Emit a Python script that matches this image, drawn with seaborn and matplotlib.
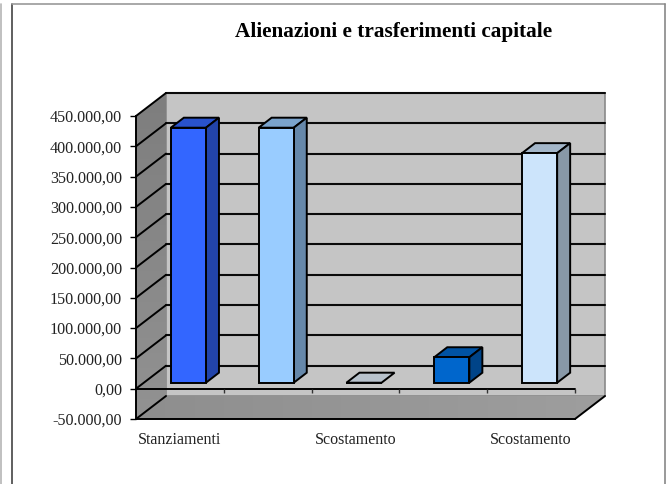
import numpy as np
import pandas as pd
import seaborn as sns
import matplotlib
matplotlib.use('Agg')
import matplotlib.pyplot as plt
from matplotlib.colors import LinearSegmentedColormap
from matplotlib.lines import Line2D
from matplotlib.patches import Polygon

# dati
categories = ['Stanziamenti', '', 'Scostamento', '', 'Scostamento']
values = [420800, 420800, 0, 42000, 378800]
front_colors = ['#3366ff', '#99ccff', '#e6f3ff', '#0066cc', '#cce4fb']
y_ticks = [-50000, 0, 50000, 100000, 150000, 200000, 250000, 300000, 350000, 400000, 450000]
y_labels = ['-50.000,00', '0,00', '50.000,00', '100.000,00', '150.000,00', '200.000,00',
            '250.000,00', '300.000,00', '350.000,00', '400.000,00', '450.000,00']

W, H = 670, 484
sns.set_theme(style='white')
plt.rcParams['font.family'] = ['Liberation Serif', 'DejaVu Serif']

fig = plt.figure(figsize=(W / 100, H / 100), dpi=100)
ax = fig.add_axes([136 / W, 1 - 419 / H, (575 - 136) / W, (419 - 116) / H])

df = pd.DataFrame({'pos': range(len(values)), 'value': values})
sns.barplot(data=df, x='pos', y='value', hue='pos', palette=front_colors, legend=False,
            width=0.4, edgecolor='black', linewidth=1.4, saturation=1, ax=ax, zorder=5)
bars = list(ax.patches)

# profondita della scatola e delle barre, in unita dati
box_dx, box_dy = 30 / 87.8, 23 / 303 * 500000
bar_dx, bar_dy = 13 / 87.8, 10 / 303 * 500000
shift_x, shift_y = 8.5 / 87.8, 6 / 303 * 500000
x0, x1, y0, y1 = -0.5, 4.5, -50000, 450000


def shaded(points, c_start, c_end, horizontal):
    # poligono riempito con una sfumatura
    poly = Polygon(points, fc='none', ec='none', zorder=1, clip_on=False)
    ax.add_patch(poly)
    xs, ys = zip(*points)
    grad = np.linspace(0, 1, 64).reshape(1, -1) if horizontal else np.linspace(0, 1, 64).reshape(-1, 1)
    cmap = LinearSegmentedColormap.from_list('g', [c_start, c_end])
    im = ax.imshow(grad, cmap=cmap, extent=(min(xs), max(xs), min(ys), max(ys)), origin='lower',
                   aspect='auto', zorder=1)
    im.set_clip_box(fig.bbox)
    im.set_clip_path(poly)


back = Polygon([(x0 + box_dx, y0 + box_dy), (x1 + box_dx, y0 + box_dy),
                (x1 + box_dx, y1 + box_dy), (x0 + box_dx, y1 + box_dy)],
               fc='#c5c5c5', ec='#8a8a8a', lw=1.2, zorder=1, clip_on=False)
ax.add_patch(back)
shaded([(x0, y0), (x0 + box_dx, y0 + box_dy), (x0 + box_dx, y1 + box_dy), (x0, y1)],
       '#929292', '#7e7e7e', False)
shaded([(x0, y0), (x1, y0), (x1 + box_dx, y0 + box_dy), (x0 + box_dx, y0 + box_dy)],
       '#8e8e8e', '#9e9e9e', True)

ax.set_xlim(-0.5, 4.5)
ax.set_ylim(-50000, 450000)

# griglia: diagonali sul fianco e orizzontali sul fondo
for t in y_ticks:
    if t > y0:
        ax.plot([x0 + box_dx, x1 + box_dx], [t + box_dy] * 2, color='#0a0a0a', lw=1.5,
                zorder=2, clip_on=False)
    ax.plot([x0, x0 + box_dx], [t, t + box_dy], color='black', lw=1.4, zorder=2, clip_on=False)
ax.plot([x1, x1 + box_dx], [y0, y0 + box_dy], color='black', lw=1.4, zorder=2, clip_on=False)

# linea dello zero e tacche
ax.plot([x0, x1], [0, 0], color='black', lw=1.4, zorder=3, clip_on=False)
ax.vlines(np.arange(0.5, 5), -7000, 0, color='#333333', lw=1, zorder=3, clip_on=False)

# barre 3D
for bar, col in zip(bars, front_colors):
    bar.set_x(bar.get_x() + shift_x)
    bar.set_y(bar.get_y() + shift_y)
    x, y, w, h = bar.get_x(), bar.get_y(), bar.get_width(), bar.get_height()
    rgb = np.array(matplotlib.colors.to_rgb(col))
    ax.add_patch(Polygon([(x, y + h), (x + w, y + h), (x + w + bar_dx, y + h + bar_dy), (x + bar_dx, y + h + bar_dy)],
                         fc=rgb * 0.8, ec='black', lw=1.4, zorder=4))
    if h > 0:
        ax.add_patch(Polygon([(x + w, y), (x + w + bar_dx, y + bar_dy), (x + w + bar_dx, y + h + bar_dy), (x + w, y + h)],
                             fc=rgb * 0.667, ec='black', lw=1.4, zorder=4))

ax.set_xticks(range(len(categories)), categories)
ax.set_yticks(y_ticks, y_labels)
ax.set_xlabel('')
ax.set_ylabel('')
ax.tick_params(axis='y', left=True, length=4, width=1, color='black', pad=6, labelsize=11.6, labelcolor='#222222')
ax.tick_params(axis='x', bottom=False, pad=3, labelsize=11.5, labelcolor='#222222')
for name in ('top', 'right'):
    ax.spines[name].set_visible(False)
for name in ('left', 'bottom'):
    ax.spines[name].set_color('black')
    ax.spines[name].set_linewidth(1.4)
    ax.spines[name].set_zorder(6)

fig.text(394 / W, 1 - 32 / H, 'Alienazioni e trasferimenti capitale', ha='center', va='center',
         fontsize=15.3, fontweight='bold', color='black')

# cornice esterna
for xs, ys, c in [([11.5, 11.5], [4, H], '#444444'), ([11.5, 665], [4, 4], '#999999'),
                  ([665, 665], [4, H], '#888888'), ([1, 1], [4, H], '#b5b5b5')]:
    fig.add_artist(Line2D([v / W for v in xs], [1 - v / H for v in ys], color=c, lw=1.2))

fig.savefig('out.png', dpi=100)
